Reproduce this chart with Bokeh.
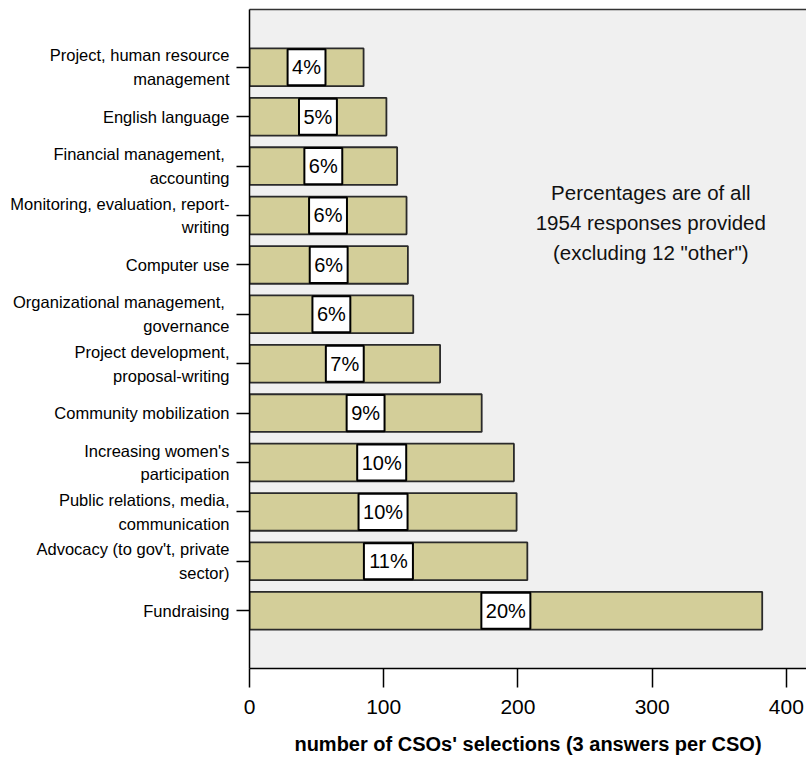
from bokeh.plotting import figure
from bokeh.models import FactorRange, Range1d, Label, ColumnDataSource, FixedTicker, LinearAxis
from bokeh.embed import file_html
from bokeh.resources import INLINE
from bokeh.core.properties import value

# ---- data (top to bottom as shown) ----
categories = [
    "Project, human resource\nmanagement",
    "English language",
    "Financial management, \naccounting",
    "Monitoring, evaluation, report-\nwriting",
    "Computer use",
    "Organizational management, \ngovernance",
    "Project development,\nproposal-writing",
    "Community mobilization",
    "Increasing women's\nparticipation",
    "Public relations, media,\ncommunication",
    "Advocacy (to gov't, private\nsector)",
    "Fundraising",
]
selections = [85, 102, 110, 117, 118, 122, 142, 173, 197, 199, 207, 382]
pct_labels = ["4%", "5%", "6%", "6%", "6%", "6%", "7%", "9%", "10%", "10%", "11%", "20%"]
x_ticks = [0, 100, 200, 300, 400]
x_title = "number of CSOs' selections (3 answers per CSO)"
note_lines = ["Percentages are of all", "1954 responses provided", '(excluding 12 "other")']

FONT = "Liberation Sans"
BAR_FILL = "#d3ce99"
PAD = 0.67

src = ColumnDataSource(dict(
    cat=categories,
    val=selections,
    mid=[v / 2 for v in selections],
    pct=pct_labels,
    boxw=[20 * (0.556 * (len(s) - 1) + 0.889) + 9 for s in pct_labels],
))

p = figure(
    width=806, height=757,
    x_range=Range1d(0, 415),
    y_range=FactorRange(factors=list(reversed(categories)),
                        range_padding=PAD, range_padding_units="absolute"),
    output_backend="svg", toolbar_location=None,
    min_border_left=249, min_border_right=0, min_border_top=9, min_border_bottom=89,
    background_fill_color="#f0f0f0", border_fill_color="white",
)
p.outline_line_color = None
p.xgrid.visible = False
p.ygrid.visible = False

xa = p.below[0]
ya = p.left[0]

p.hbar(y="cat", right="val", left=0, height=0.764, source=src,
       fill_color=BAR_FILL, line_color="#2a2a2a", line_width=1.8)
p.rect(x="mid", y="cat", width="boxw", width_units="screen", height=0.73, source=src,
       fill_color="white", line_color="black", line_width=2)
p.text(x="mid", y="cat", text="pct", source=src, text_align="center",
       text_baseline="middle", text_font=value(FONT), text_font_size="20px",
       text_color="black")

# top border of the plot area (an empty axis drawn above the frame)
top_axis = LinearAxis(ticker=FixedTicker(ticks=[]), axis_line_color="#333333",
                      axis_line_width=1.6, major_tick_line_color=None,
                      minor_tick_line_color=None, major_label_text_font_size="0px",
                      major_label_standoff=0, major_tick_out=0, major_tick_in=0)
p.add_layout(top_axis, "above")

# note
p.add_layout(Label(x=299, y=8.36, text="\n".join(note_lines), text_align="center",
                   text_baseline="middle", text_font=FONT, text_font_size="20.5px",
                   text_line_height=1.29, text_color="#111111"))

# x axis
xa.ticker = FixedTicker(ticks=x_ticks)
xa.axis_line_color = "black"
xa.axis_line_width = 1.5
xa.major_tick_out = 19
xa.major_tick_in = 0
xa.major_tick_line_width = 1.5
xa.major_tick_line_color = "black"
xa.minor_tick_line_color = None
xa.major_label_text_font = FONT
xa.major_label_text_font_size = "21px"
xa.major_label_text_color = "black"
xa.major_label_standoff = 12
xa.axis_label = x_title
xa.axis_label_text_font = FONT
xa.axis_label_text_font_size = "20px"
xa.axis_label_text_font_style = "bold"
xa.axis_label_text_color = "black"
xa.axis_label_standoff = 16

# y axis
ya.axis_line_color = "black"
ya.axis_line_width = 1.5
ya.major_tick_out = 13
ya.major_tick_in = 0
ya.major_tick_line_width = 1.5
ya.major_tick_line_color = "black"
ya.minor_tick_line_color = None
ya.major_label_text_font = FONT
ya.major_label_text_font_size = "16.5px"
ya.major_label_text_color = "black"
ya.major_label_text_line_height = 1.32
ya.major_label_standoff = 7

open("out.html", "w").write(file_html(p, INLINE))
